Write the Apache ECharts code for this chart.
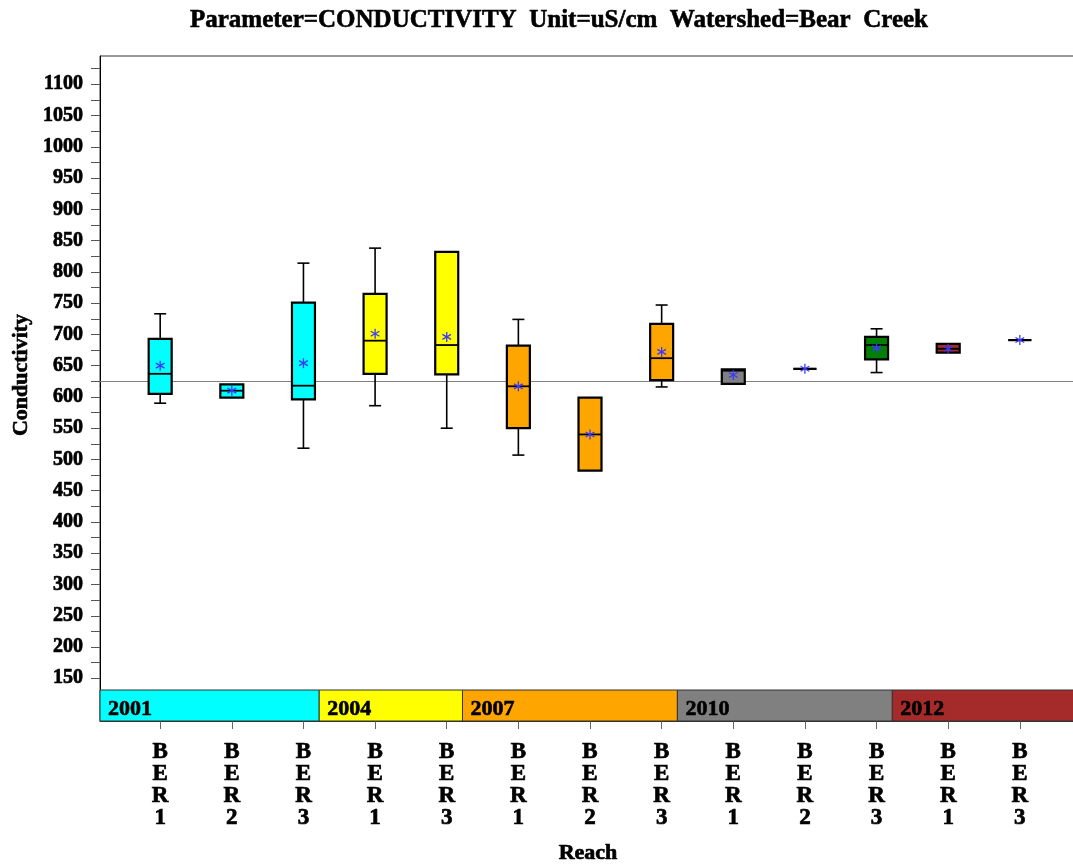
<!DOCTYPE html>
<html><head><meta charset="utf-8">
<script src="https://cdn.jsdelivr.net/npm/echarts@6/dist/echarts.min.js"></script>
<style>html,body{margin:0;padding:0;background:#fff}#c{width:1073px;height:865px}</style>
</head><body><div id="c"></div>
<script>
// ---- data ----
const reaches = ['BER1','BER2','BER3','BER1','BER3','BER1','BER2','BER3','BER1','BER2','BER3','BER1','BER3'];
const years = ['2001','2004','2007','2010','2012'];
const yearSizes = [3, 2, 3, 3, 2];
const yearColors = ['#00FFFF','#FFFF00','#FFA500','#808080','#A52A2A'];
const boxColors = ['#00FFFF','#00FFFF','#00FFFF','#FFFF00','#FFFF00','#FFA500','#FFA500','#FFA500','#808080','#808080','#008000','#A52A2A','#A52A2A'];
const whiskerLow  = [590, 599, 518, 586, 550, 507, 482, 616, 621, 645, 639, 671, 691];
const q1          = [605, 599, 596, 637, 636, 550, 482, 627, 621, 645, 660, 671, 691];
const median      = [637, 610, 618, 690, 683, 617, 540, 662, 642, 645, 683, 677, 691];
const q3          = [693, 620, 751, 765, 832, 682, 599, 717, 644, 645, 696, 685, 691];
const whiskerHigh = [733, 620, 814, 838, 832, 724, 599, 747, 644, 645, 709, 685, 691];
const mean        = [650, 610, 654, 701, 696, 617, 540, 672, 635, 645, 678, 677, 691];
const overallMean = 625;
const yLabelValues = [150,200,250,300,350,400,450,500,550,600,650,700,750,800,850,900,950,1000,1050,1100];
const yTickValues = [150,175,200,225,250,275,300,325,350,375,400,425,450,475,500,525,550,575,600,625,650,675,700,725,750,775,800,825,850,875,900,925,950,975,1000,1025,1050,1075,1100,1125];
const xTickValues = [0,1,2,3,4,5,6,7,8,9,10,11,12];
const titleText = 'Parameter=CONDUCTIVITY  Unit=uS/cm  Watershed=Bear  Creek';
const yAxisTitle = 'Conductivity';
const xAxisTitle = 'Reach';

// ---- layout constants ----
const Y_MIN = 81.7, Y_MAX = 1145.3;
const X_MIN = -0.84, X_MAX = 12.784;
const FONT = '"Liberation Serif", "DejaVu Serif", serif';
const HEAVY = {textBorderColor: '#000', textBorderWidth: 0.7};

const boxData = reaches.map((r, i) => [i, whiskerLow[i], q1[i], median[i], q3[i], whiskerHigh[i], mean[i]]);

const bandData = [];
let acc = 0;
yearSizes.forEach((n, k) => {
  const s = k === 0 ? X_MIN : acc - 1 + 0.22;
  acc += n;
  const e = k === yearSizes.length - 1 ? X_MAX : acc - 1 + 0.22;
  bandData.push([s, e, k, Y_MIN]);
});

function renderBox(params, api) {
  const i = api.value(0);
  const lo = api.value(1), a = api.value(2), m = api.value(3), b = api.value(4), hi = api.value(5), mu = api.value(6);
  const x = api.coord([i, m])[0];
  const yLo = api.coord([i, lo])[1], yA = api.coord([i, a])[1], yM = api.coord([i, m])[1];
  const yB = api.coord([i, b])[1], yHi = api.coord([i, hi])[1], yMu = api.coord([i, mu])[1];
  const bw = 23, cw = 12;
  const ch = [];
  const wl = {stroke: '#000', lineWidth: 1.6};
  if (hi > b) {
    ch.push({type: 'line', shape: {x1: x, y1: yB, x2: x, y2: yHi}, style: wl});
    ch.push({type: 'line', shape: {x1: x - cw / 2, y1: yHi, x2: x + cw / 2, y2: yHi}, style: wl});
  }
  if (lo < a) {
    ch.push({type: 'line', shape: {x1: x, y1: yA, x2: x, y2: yLo}, style: wl});
    ch.push({type: 'line', shape: {x1: x - cw / 2, y1: yLo, x2: x + cw / 2, y2: yLo}, style: wl});
  }
  ch.push({type: 'rect', shape: {x: x - bw / 2, y: yB, width: bw, height: Math.max(yA - yB, 0)},
    style: {fill: boxColors[i], stroke: '#000', lineWidth: 2.2}});
  ch.push({type: 'line', shape: {x1: x - bw / 2, y1: yM, x2: x + bw / 2, y2: yM}, style: {stroke: '#000', lineWidth: 1.8}});
  const st = {stroke: '#3a3aff', lineWidth: 1.3};
  const r = 5;
  ch.push({type: 'line', shape: {x1: x, y1: yMu - r, x2: x, y2: yMu + r}, style: st});
  ch.push({type: 'line', shape: {x1: x - r * 0.87, y1: yMu - r * 0.5, x2: x + r * 0.87, y2: yMu + r * 0.5}, style: st});
  ch.push({type: 'line', shape: {x1: x - r * 0.87, y1: yMu + r * 0.5, x2: x + r * 0.87, y2: yMu - r * 0.5}, style: st});
  return {type: 'group', children: ch};
}

function renderBand(params, api) {
  const s = api.value(0), e = api.value(1), k = api.value(2);
  const cs = params.coordSys;
  const x1 = Math.max(api.coord([s, Y_MIN])[0], cs.x);
  const x2 = Math.min(api.coord([e, Y_MIN])[0], cs.x + cs.width);
  const yb = cs.y + cs.height, h = 31;
  return {type: 'group', children: [
    {type: 'rect', shape: {x: x1, y: yb - h, width: x2 - x1, height: h},
      style: {fill: yearColors[k], stroke: '#333', lineWidth: 1}},
    {type: 'text', style: Object.assign({text: years[k], x: x1 + 8, y: yb - 1, verticalAlign: 'bottom', align: 'left',
      font: 'bold 22px ' + FONT, fill: '#000'}, {stroke: '#000', lineWidth: 0.6})}
  ]};
}

const chart = echarts.init(document.getElementById('c'), null, {renderer: 'canvas'});
chart.setOption({
  animation: false,
  backgroundColor: '#fff',
  graphic: [
    {type: 'text', x: 559, y: 21, style: {text: titleText, align: 'center', verticalAlign: 'middle',
      font: 'bold 25px ' + FONT, fill: '#000', stroke: '#000', lineWidth: 0.6}},
    {type: 'text', x: 21, y: 375, rotation: Math.PI / 2, style: {text: yAxisTitle, align: 'center', verticalAlign: 'middle',
      font: 'bold 22px ' + FONT, fill: '#000', stroke: '#000', lineWidth: 0.6}}
  ],
  grid: {left: 100, right: -3, top: 56, bottom: 144, outerBoundsMode: 'none', containLabel: false,
    show: true, borderColor: '#333', borderWidth: 1, backgroundColor: 'transparent'},
  xAxis: {
    type: 'value', min: X_MIN, max: X_MAX,
    name: xAxisTitle, nameLocation: 'middle', nameGap: 121,
    nameTextStyle: Object.assign({fontFamily: FONT, fontWeight: 'bold', fontSize: 22, color: '#000'}, HEAVY),
    axisLine: {show: true, onZero: false, lineStyle: {color: '#333', width: 1}},
    axisTick: {show: true, length: 8, customValues: xTickValues, lineStyle: {color: '#666', width: 1}},
    axisLabel: Object.assign({customValues: xTickValues, margin: 20, fontFamily: FONT, fontWeight: 'bold', fontSize: 23, lineHeight: 22, color: '#000',
      formatter: v => reaches[Math.round(v)].split('').join('\n')}, HEAVY),
    splitLine: {show: false}
  },
  yAxis: {
    type: 'value', min: Y_MIN, max: Y_MAX,
    axisLine: {show: true, onZero: false, lineStyle: {color: '#000', width: 1}},
    axisTick: {show: true, length: 9, customValues: yTickValues, lineStyle: {color: '#555', width: 1}},
    axisLabel: Object.assign({customValues: yLabelValues, margin: 17, fontFamily: FONT, fontWeight: 'bold', fontSize: 20, color: '#000',
      formatter: v => String(v)}, HEAVY),
    splitLine: {show: false}
  },
  series: [
    {type: 'custom', name: 'year', z: 1, renderItem: renderBand, data: bandData, encode: {x: [0, 1], y: 3}, silent: true,
      markLine: {z: 1, silent: true, symbol: ['none', 'none'], label: {show: false},
        lineStyle: {color: '#808080', width: 1, type: 'solid'}, data: [{yAxis: overallMean}]}},
    {type: 'custom', name: 'box', z: 5, renderItem: renderBox, data: boxData, encode: {x: 0, y: [1, 5]}, silent: true}
  ]
});
</script></body></html>
